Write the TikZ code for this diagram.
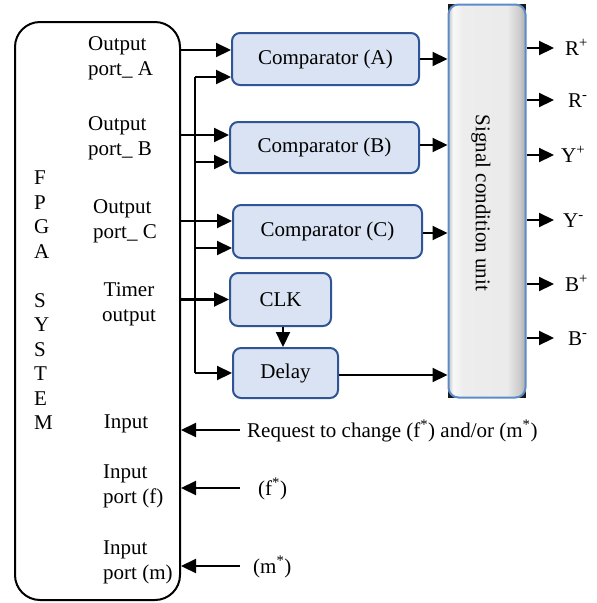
\documentclass[tikz,border=0pt]{standalone}
\usepackage{fontspec}
\setmainfont{Liberation Serif}
\usetikzlibrary{arrows.meta,calc}
\definecolor{cfill}{RGB}{218,227,243}
\definecolor{cline}{RGB}{47,85,151}
\definecolor{sline}{RGB}{91,140,200}
\pgfdeclarehorizontalshading{scushade}{100bp}{color(0bp)=(gray!45); color(25bp)=(gray!45); color(28bp)=(gray!5); color(34bp)=(gray!14); color(63bp)=(gray!16); color(71bp)=(gray!40); color(75bp)=(gray!65); color(100bp)=(gray!65)}
\begin{document}
\begin{tikzpicture}[x=1pt,y=-1pt,font=\fontsize{21}{25}\selectfont,
  line/.style={line width=2.2pt},
  arr/.style={line width=2.2pt,-{Triangle[length=15pt,width=14pt]}},
  comp/.style={draw=cline,fill=cfill,line width=2pt,rounded corners=8pt,inner sep=0pt},
  lbl/.style={inner sep=0pt,align=left,anchor=west},
  txt/.style={inner sep=0pt}]
\useasboundingbox (0,0) rectangle (597,603);

% FPGA system
\node[draw,line width=2pt,rounded corners=25pt,minimum width=165pt,minimum height=578pt,inner sep=0pt] (fpga) at (97.5,311) {};
\foreach \l/\yy [count=\i] in {F/178,P/202.5,G/227,A/251.5,S/300.5,Y/325,S/349.5,T/374,E/398.5,M/423}
  \node[txt,anchor=west] (L\i) at (34,\yy) {\l};
\node[lbl] (pa) at (88,58.5) {Output\\port\_ A};
\node[lbl] (pb) at (88,138.5) {Output\\port\_ B};
\node[lbl] (pc) at (93,221) {Output\\port\_ C};
\node[txt,align=center] (tm) at (129,304) {Timer\\output};
\node[txt] (in) at (126,424) {Input};
\node[lbl] (pf) at (103,486) {Input\\port (f)};
\node[lbl] (pm) at (103,562) {Input\\port (m)};

% blocks
\node[comp,minimum width=187pt,minimum height=52pt] (A) at (325.5,59) {Comparator (A)};
\node[comp,minimum width=189pt,minimum height=51pt] (B) at (324.5,147.5) {Comparator (B)};
\node[comp,minimum width=189pt,minimum height=53pt] (C) at (327.5,231.5) {Comparator (C)};
\node[comp,minimum width=101pt,minimum height=53pt] (CLK) at (280.5,299.5) {CLK};
\node[comp,minimum width=105pt,minimum height=50pt] (D) at (285.5,373) {Delay};

% signal condition unit
\fill[black!90] (448,4) rectangle (526,398);
\node[draw=sline,line width=2pt,rounded corners=10pt,shade,shading=scushade,minimum width=77pt,minimum height=393pt,inner sep=0pt] (scu) at (487,201) {};
\node[txt,rotate=-90] (scut) at (481,203) {Signal condition unit};

% wires from FPGA
\coordinate (busx) at (195,0);
\coordinate (a1) at ([yshift=9pt]A.west);
\coordinate (a2) at ([yshift=-18pt]A.west);
\coordinate (b1) at ([yshift=12.5pt]B.west);
\coordinate (b2) at ([yshift=-14.5pt]B.west);
\coordinate (c1) at ([yshift=10.5pt]C.west);
\coordinate (c2) at ([yshift=-16.5pt]C.west);
\draw[arr] (fpga.east |- a1) -- (a1);
\draw[arr] (fpga.east |- b1) -- (b1);
\draw[arr] (fpga.east |- c1) -- (c1);
\draw[arr] (fpga.east |- CLK.west) -- (CLK.west);
\draw[line] (busx |- a2) -- (busx |- D.west);
\draw[arr] (busx |- a2) -- (a2);
\draw[arr] (busx |- b2) -- (b2);
\draw[arr] (busx |- c2) -- (c2);
\draw[arr] (busx |- D.west) -- (D.west);
\draw[arr] ([xshift=2.5pt]CLK.south) -- ([xshift=2.5pt]CLK.south |- D.north);

% into signal condition unit
\coordinate (ao) at (A.east);
\coordinate (bo) at ([yshift=2.5pt]B.east);
\coordinate (co) at ([yshift=-1.5pt]C.east);
\coordinate (dout) at ([yshift=-2pt]D.east);
\draw[arr] (ao) -- (ao -| scu.west);
\draw[arr] (bo) -- (bo -| scu.west);
\draw[arr] (co) -- (co -| scu.west);
\draw[arr] (dout) -- (dout -| scu.west);

% outputs
\coordinate (o1) at (554,48);
\coordinate (o2) at (554,100);
\coordinate (o3) at (554,155);
\coordinate (o4) at (554,220);
\coordinate (o5) at (554,284);
\coordinate (o6) at (554,338);
\foreach \i in {1,...,6} \draw[arr] (scu.east |- o\i) -- (o\i);
\node[txt,anchor=base west] (r1) at (565,55) {R\textsuperscript{+}};
\node[txt,anchor=base west] (r2) at (568,107) {R\textsuperscript{-}};
\node[txt,anchor=base west] (r3) at (561,162) {Y\textsuperscript{+}};
\node[txt,anchor=base west] (r4) at (563,227) {Y\textsuperscript{-}};
\node[txt,anchor=base west] (r5) at (565,291) {B\textsuperscript{+}};
\node[txt,anchor=base west] (r6) at (568,345) {B\textsuperscript{-}};

% inputs
\coordinate (q1) at (240,430);
\coordinate (q2) at (240,488);
\coordinate (q3) at (240,566);
\draw[arr] (q1) -- (q1 -| fpga.east);
\draw[arr] (q2) -- (q2 -| fpga.east);
\draw[arr] (q3) -- (q3 -| fpga.east);
\node[txt,anchor=base west] (t1) at (247,437) {Request to change (f\textsuperscript{*}) and/or (m\textsuperscript{*})};
\node[txt,anchor=base west] (t2) at (258,495) {(f\textsuperscript{*})};
\node[txt,anchor=base west] (t3) at (253,573) {(m\textsuperscript{*})};
\end{tikzpicture}
\end{document}
